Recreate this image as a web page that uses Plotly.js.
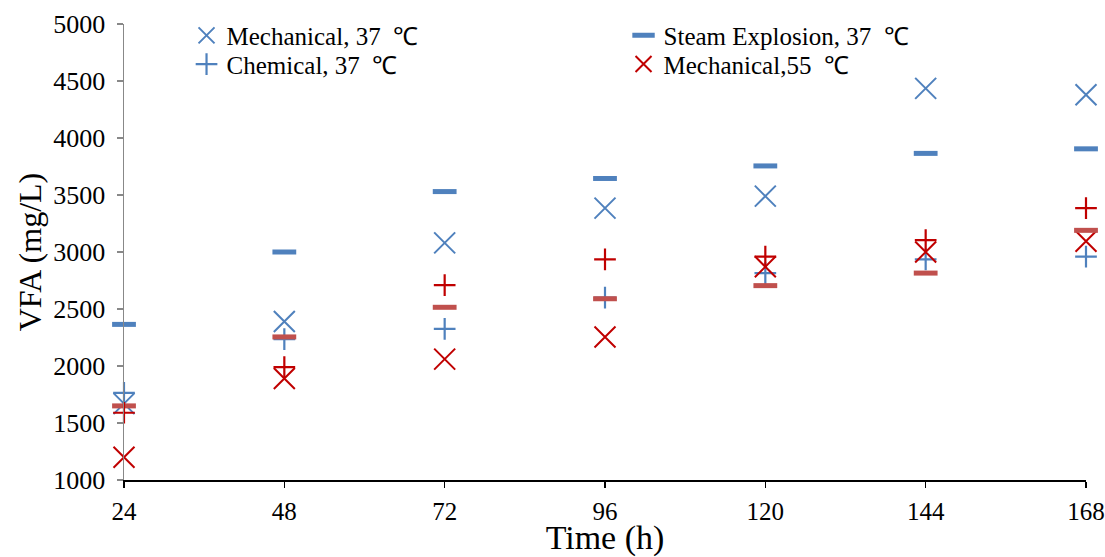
<!DOCTYPE html>
<html>
<head>
<meta charset="utf-8">
<script src="https://cdn.plot.ly/plotly-3.0.1.min.js"></script>
<style>html,body{margin:0;padding:0;background:#fff;}#chart{width:1105px;height:557px;}</style>
</head>
<body>
<div id="chart"></div>
<script>
const time = [24, 48, 72, 96, 120, 144, 168];
const tickLabels = ['24', '48', '72', '96', '120', '144', '168'];
const mech37  = [1670, 2390, 3080, 3385, 3490, 4435, 4380];
const steam37 = [2365, 3000, 3530, 3645, 3755, 3865, 3905];
const chem37  = [1765, 2235, 2325, 2600, 2815, 2935, 2960];
const mech55  = [1200, 1890, 2060, 2255, 2870, 3000, 3095];
const steam55 = [1650, 2255, 2515, 2590, 2705, 2815, 3190];
const chem55  = [1590, 1990, 2710, 2935, 2960, 3105, 3385];

const blue = '#4F81BD', darkRed = '#C00000', red = '#C0504D';
const font = 'Liberation Serif, Times New Roman, serif';

function tr(name, y, symbol, color, size, lw, show, leg) {
  return {x: time, y: y, name: name, type: 'scatter', mode: 'markers', showlegend: show,
    legend: leg, cliponaxis: false,
    marker: {symbol: symbol, size: size, color: color, line: {color: color, width: lw}}};
}
const traces = [
  tr('Mechanical, 37\u2002\u2103', mech37, 'x-thin-open', blue, 21, 2, true, 'legend'),
  tr('Steam Explosion, 37\u2002\u2103', steam37, 'line-ew-open', blue, 17, 5, true, 'legend'),
  tr('Chemical, 37\u2002\u2103', chem37, 'cross-thin-open', blue, 15.5, 2.2, true, 'legend2'),
  tr('Mechanical,55\u2002\u2103', mech55, 'x-thin-open', darkRed, 21, 2, true, 'legend2'),
  tr('Steam Explosion, 55\u2002\u2103', steam55, 'line-ew-open', red, 17, 5, false, 'legend'),
  tr('Chemical, 55\u2002\u2103', chem55, 'cross-thin-open', darkRed, 15.5, 2.2, false, 'legend2')
];
const legBase = {orientation: 'h', x: 0.065, xanchor: 'left', yanchor: 'top',
  entrywidth: 392, entrywidthmode: 'pixels', font: {family: font, size: 25},
  bgcolor: 'rgba(0,0,0,0)', itemwidth: 30};
const layout = {
  width: 1105, height: 557,
  margin: {l: 124, r: 19, t: 24, b: 77},
  paper_bgcolor: '#fff', plot_bgcolor: '#fff',
  font: {family: font, size: 25, color: '#000'},
  xaxis: {range: [24, 168], tickvals: time, ticktext: tickLabels, showgrid: false, zeroline: false,
    showline: true, linecolor: '#000', linewidth: 2, ticks: 'outside', ticklen: 6, tickcolor: '#000',
    tickwidth: 1.5, ticklabelstandoff: 2, tickfont: {family: font, size: 25},
    title: {text: 'Time (h)', font: {family: font, size: 34}, standoff: 5}, automargin: false},
  yaxis: {range: [1000, 5000], dtick: 500, showgrid: false, zeroline: false,
    showline: true, linecolor: '#888', linewidth: 1.5, ticks: 'outside', ticklen: 6, tickcolor: '#888',
    tickwidth: 1.5, ticklabelstandoff: 6, tickfont: {family: font, size: 26},
    title: {text: 'VFA (mg/L)', font: {family: font, size: 32}, standoff: 2}, automargin: false},
  legend: Object.assign({}, legBase, {y: 1.025}),
  legend2: Object.assign({}, legBase, {y: 0.962}),
  showlegend: true
};
Plotly.newPlot('chart', traces, layout, {displayModeBar: false, staticPlot: true});
</script>
</body>
</html>
